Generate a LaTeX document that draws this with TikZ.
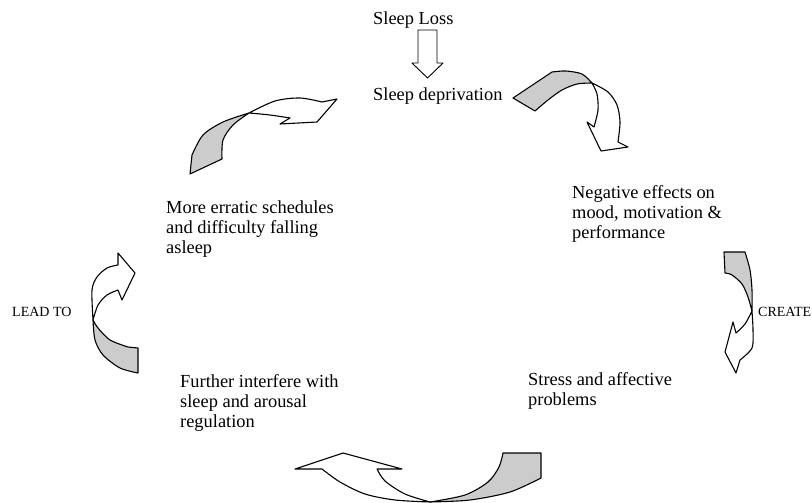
\documentclass[tikz,border=0pt]{standalone}
\usepackage{fontspec}
\setmainfont{Liberation Serif}
\usepackage{tikz}
\usetikzlibrary{calc}
\definecolor{backcol}{RGB}{204,204,204}

\begin{document}
\begin{tikzpicture}[x=1pt, y=-1pt, line join=round,
  boxtext/.style={font=\fontsize{18.4}{20}\selectfont, inner sep=0pt, align=left, anchor=north west},
  sidetext/.style={font=\fontsize{14}{16}\selectfont, inner sep=0pt, anchor=base west},
  backpart/.style={draw=black, fill=backcol, line width=1.1pt},
  frontpart/.style={draw=black, fill=white, line width=1.1pt}]
\useasboundingbox (0,0) rectangle (812,503);

% texts of the cycle
\node[boxtext, anchor=base west] (loss) at (373,25) {Sleep Loss};
\node[boxtext, anchor=base west] (depriv) at (373,101) {Sleep deprivation};
\node[boxtext] (negative) at (572,185.5) {Negative effects on\\mood, motivation \&\\performance};
\node[boxtext] (stress) at (528,372.5) {Stress and affective\\problems};
\node[boxtext] (further) at (180,374.5) {Further interfere with\\sleep and arousal\\regulation};
\node[boxtext] (erratic) at (166,200.5) {More erratic schedules\\and difficulty falling\\asleep};
\node[sidetext] (leadto) at (12,316) {LEAD TO};
\node[sidetext] (create) at (758,316) {CREATE};

% straight arrow under Sleep Loss
\draw[frontpart, line width=0.9pt] (418,30) -- (437,30) -- (437,63) -- (443,63)
  -- (427.5,78) -- (412,63) -- (418,63) -- cycle;

% top right bent arrow
\draw[backpart] (513,98) -- (535,111)
  -- plot[smooth] coordinates {(535,111) (548,100) (562,90) (577,84) (592,83)}
  -- plot[smooth] coordinates {(592,83) (582,74) (566,71) (552,72)} -- cycle;
\draw[frontpart] (592,83)
  -- plot[smooth] coordinates {(592,83) (608,92) (617,105) (620,122) (618,142)}
  -- (628,147) -- (601,151) -- (587,122) -- (594,127)
  -- plot[smooth] coordinates {(594,127) (598,110) (597,94) (592,83)} -- cycle;

% right bent arrow
\draw[backpart] (724,252) -- (745,252)
  -- plot[smooth] coordinates {(745,252) (750,270) (752,290) (752,311)}
  -- plot[smooth] coordinates {(752,311) (748,297) (742,284) (732,275) (725,273)} -- cycle;
\draw[frontpart] (752,311)
  -- plot[smooth] coordinates {(752,311) (753,330) (752,348) (740,360)}
  -- (736,373) -- (725,352) -- (733,322) -- (736,333)
  -- plot[smooth] coordinates {(736,333) (745,324) (752,311)} -- cycle;

% bottom bent arrow
\draw[backpart] (503,453) -- (541,453) -- (541,478)
  -- plot[smooth] coordinates {(541,478) (510,492) (470,500) (430,502)}
  -- plot[smooth] coordinates {(430,502) (465,495) (488,482) (499,467) (503,453)} -- cycle;
\draw[frontpart] (430,502)
  -- plot[smooth] coordinates {(430,502) (395,500) (365,494) (340,482) (322,469)}
  -- (295,469) -- (343,453) -- (402,469) -- (377,469)
  -- plot[smooth] coordinates {(377,469) (385,481) (405,494) (430,502)} -- cycle;

% left bent arrow
\draw[backpart] (93,320)
  -- plot[smooth] coordinates {(93,320) (95,340) (103,355) (120,368) (138,373)}
  -- (138,348) -- (128,347)
  -- plot[smooth] coordinates {(128,347) (110,340) (98,328) (93,320)} -- cycle;
\draw[frontpart] (93,320)
  -- plot[smooth] coordinates {(93,320) (92,290) (97,277) (107,268) (118,265)}
  -- (118,253) -- (135,273) -- (122,300) -- (118,290)
  -- plot[smooth] coordinates {(118,290) (107,295) (98,305) (93,320)} -- cycle;

% top left bent arrow
\draw[backpart] (190,174) -- (222,159)
  -- plot[smooth] coordinates {(222,159) (223,140) (233,125) (249,113)}
  -- plot[smooth] coordinates {(249,113) (223,122) (203,135) (192,155)} -- cycle;
\draw[frontpart] (249,113)
  -- plot[smooth] coordinates {(249,113) (275,101) (300,98) (322,102)}
  -- (337,99) -- (317,122) -- (280,124) -- (290,118)
  -- plot[smooth] coordinates {(290,118) (270,115) (249,113)} -- cycle;
\end{tikzpicture}
\end{document}
